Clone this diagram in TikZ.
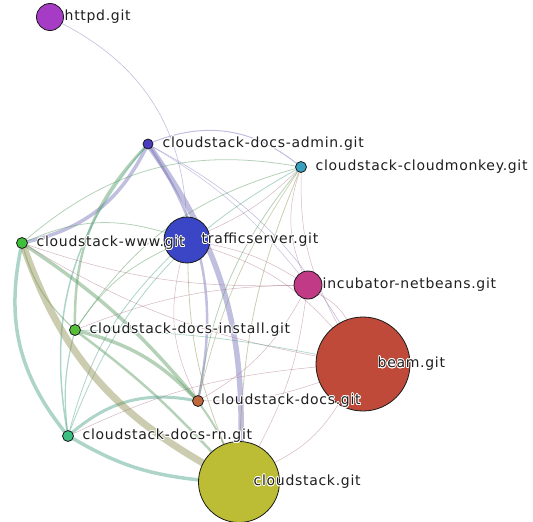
\documentclass[tikz,border=0pt]{standalone}
\usepackage{fontspec}
\setmainfont{DejaVu Sans}[LetterSpace=5]
\usepackage{contour}
\contourlength{0.7pt}
\usetikzlibrary{backgrounds}

\definecolor{chttpd}{HTML}{A63BC6}
\definecolor{cadmin}{HTML}{4A3BBF}
\definecolor{cmonkey}{HTML}{3AA0C0}
\definecolor{cwww}{HTML}{3FBF3A}
\definecolor{ctraffic}{HTML}{3A46C6}
\definecolor{cnetbeans}{HTML}{C03A86}
\definecolor{cinstall}{HTML}{55BF3A}
\definecolor{cbeam}{HTML}{C04A3A}
\definecolor{cdocs}{HTML}{C0683A}
\definecolor{crn}{HTML}{3ABF80}
\definecolor{cstack}{HTML}{BCBC35}

\definecolor{epurple}{HTML}{7570B8}
\definecolor{egreen}{HTML}{5A9A60}
\definecolor{eteal}{HTML}{4AA088}
\definecolor{eolive}{HTML}{8E9050}
\definecolor{epink}{HTML}{A0607A}

\begin{document}
\begin{tikzpicture}[x=1pt, y=-1pt,
    repo/.style={circle, draw=black!90, line width=0.8pt, inner sep=0pt},
    reponame/.style={anchor=west, xshift=14.5pt, inner sep=0pt, text=black!88, font=\fontsize{14}{16}\selectfont},
    edge/.style={line cap=round, opacity=0.45}]
  \useasboundingbox (0,0) rectangle (533,522);

  % repositories
  \node[repo, fill=chttpd, minimum size=27pt] (httpd) at (50,17) {};
  \node[repo, fill=cadmin, minimum size=10pt] (admin) at (148,144) {};
  \node[repo, fill=cmonkey, minimum size=11pt] (monkey) at (301,167) {};
  \node[repo, fill=cwww, minimum size=11pt] (www) at (22,243) {};
  \node[repo, fill=ctraffic, minimum size=46pt] (traffic) at (187,240) {};
  \node[repo, fill=cnetbeans, minimum size=28pt] (netbeans) at (308,285) {};
  \node[repo, fill=cinstall, minimum size=11pt] (install) at (75,330) {};
  \node[repo, fill=cbeam, minimum size=94pt] (beam) at (363,364) {};
  \node[repo, fill=cdocs, minimum size=11pt] (docs) at (198,401) {};
  \node[repo, fill=crn, minimum size=11pt] (rn) at (68,436) {};
  \node[repo, fill=cstack, minimum size=81pt] (stack) at (239,482) {};

  % names
  \node[reponame] (httpd-name) at (httpd.center) {\contour{white}{httpd.git}};
  \node[reponame] (admin-name) at (admin.center) {\contour{white}{cloudstack-docs-admin.git}};
  \node[reponame] (monkey-name) at (monkey.center) {\contour{white}{cloudstack-cloudmonkey.git}};
  \node[reponame] (www-name) at (www.center) {\contour{white}{cloudstack-www.git}};
  \node[reponame] (traffic-name) at (traffic.center) {\contour{white}{trafficserver.git}};
  \node[reponame] (netbeans-name) at (netbeans.center) {\contour{white}{incubator-netbeans.git}};
  \node[reponame] (install-name) at (install.center) {\contour{white}{cloudstack-docs-install.git}};
  \node[reponame] (beam-name) at (beam.center) {\contour{white}{beam.git}};
  \node[reponame] (docs-name) at (docs.center) {\contour{white}{cloudstack-docs.git}};
  \node[reponame] (rn-name) at (rn.center) {\contour{white}{cloudstack-docs-rn.git}};
  \node[reponame] (stack-name) at (stack.center) {\contour{white}{cloudstack.git}};

  % shared commits
  \begin{scope}[on background layer]
    \foreach \s/\t/\b/\w in {admin/www/25/3.5, admin/stack/18/5.5, admin/docs/22/2.5,
        admin/monkey/30/1, httpd/traffic/30/0.6, admin/beam/15/0.6, admin/netbeans/10/0.5}
      \draw[edge, epurple, line width=\w pt] (\s) to[bend left=\b] (\t);
    \foreach \s/\t/\b/\w in {admin/install/-22/2.5, www/docs/8/3.5, install/docs/15/3.5,
        install/stack/5/2.5, www/monkey/25/0.8, www/traffic/20/0.8, install/monkey/20/0.8,
        install/traffic/15/0.8, docs/monkey/15/0.8, docs/stack/5/2, www/install/-15/1.2}
      \draw[edge, egreen, line width=\w pt] (\s) to[bend left=\b] (\t);
    \foreach \s/\t/\b/\w in {www/rn/-25/3.5, rn/docs/25/3, rn/stack/-12/3.5, admin/rn/-25/1.5,
        install/rn/-10/1.2, rn/monkey/20/0.8, rn/traffic/15/0.8, install/beam/5/0.7}
      \draw[edge, eteal, line width=\w pt] (\s) to[bend left=\b] (\t);
    \foreach \s/\t/\b/\w in {www/stack/-20/7, stack/monkey/10/0.8, stack/traffic/10/0.8,
        monkey/docs/-10/0.7}
      \draw[edge, eolive, line width=\w pt] (\s) to[bend left=\b] (\t);
    \foreach \s/\t/\b in {www/netbeans/-10, www/beam/-10, install/netbeans/10, rn/beam/10,
        docs/traffic/20, docs/netbeans/-15, docs/beam/-10, stack/netbeans/-10, stack/beam/-15,
        monkey/traffic/10, monkey/netbeans/-20, monkey/beam/-15, netbeans/traffic/-10,
        netbeans/beam/15, beam/traffic/-15}
      \draw[edge, epink, line width=0.5pt] (\s) to[bend left=\b] (\t);
  \end{scope}
\end{tikzpicture}
\end{document}
